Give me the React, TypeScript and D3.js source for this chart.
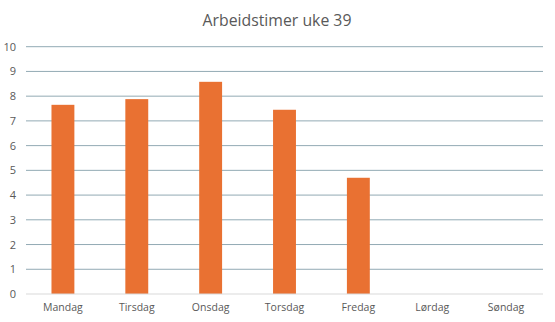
import React from "react";
import * as d3 from "d3";

const categories = ["Mandag", "Tirsdag", "Onsdag", "Torsdag", "Fredag", "Lørdag", "Søndag"];
const hours = [7.65, 7.88, 8.58, 7.45, 4.7, 0, 0];
const yTicks = [0, 1, 2, 3, 4, 5, 6, 7, 8, 9, 10];
const title = "Arbeidstimer uke 39";

const W = 555;
const H = 322;
const margin = { left: 26, right: 12, top: 46.7, bottom: 28 };

export default function App() {
  const x = d3
    .scaleBand<string>()
    .domain(categories)
    .range([margin.left, W - margin.right])
    .paddingInner(0.69)
    .paddingOuter(0.345);
  const y = d3.scaleLinear().domain([0, 10]).range([H - margin.bottom, margin.top]);
  const font = "'Open Sans', sans-serif";
  return (
    <svg width={W} height={H} style={{ position: "absolute", left: 0, top: 0, background: "#fff" }}>
      <text x={277} y={26} textAnchor="middle" fontFamily={font} fontSize={15.8} fill="#595959">
        {title}
      </text>
      {yTicks.map((t) => (
        <g key={t}>
          {t > 0 && (
            <line x1={margin.left} x2={W - margin.right} y1={y(t)} y2={y(t)} stroke="#92AAB4" strokeWidth={1} />
          )}
          <text x={16} y={y(t) + 4} textAnchor="end" fontFamily={font} fontSize={11} fill="#595959">
            {t}
          </text>
        </g>
      ))}
      {categories.map((c, i) => (
        <g key={c}>
          <rect x={x(c)} y={y(hours[i])} width={x.bandwidth()} height={y(0) - y(hours[i])} fill="#E97132" />
          <text
            x={(x(c) as number) + x.bandwidth() / 2}
            y={H - 11}
            textAnchor="middle"
            fontFamily={font}
            fontSize={10.5}
            fill="#595959"
          >
            {c}
          </text>
        </g>
      ))}
      <line x1={margin.left} x2={W - margin.right} y1={y(0)} y2={y(0)} stroke="#D9D9D9" strokeWidth={1} />
    </svg>
  );
}
